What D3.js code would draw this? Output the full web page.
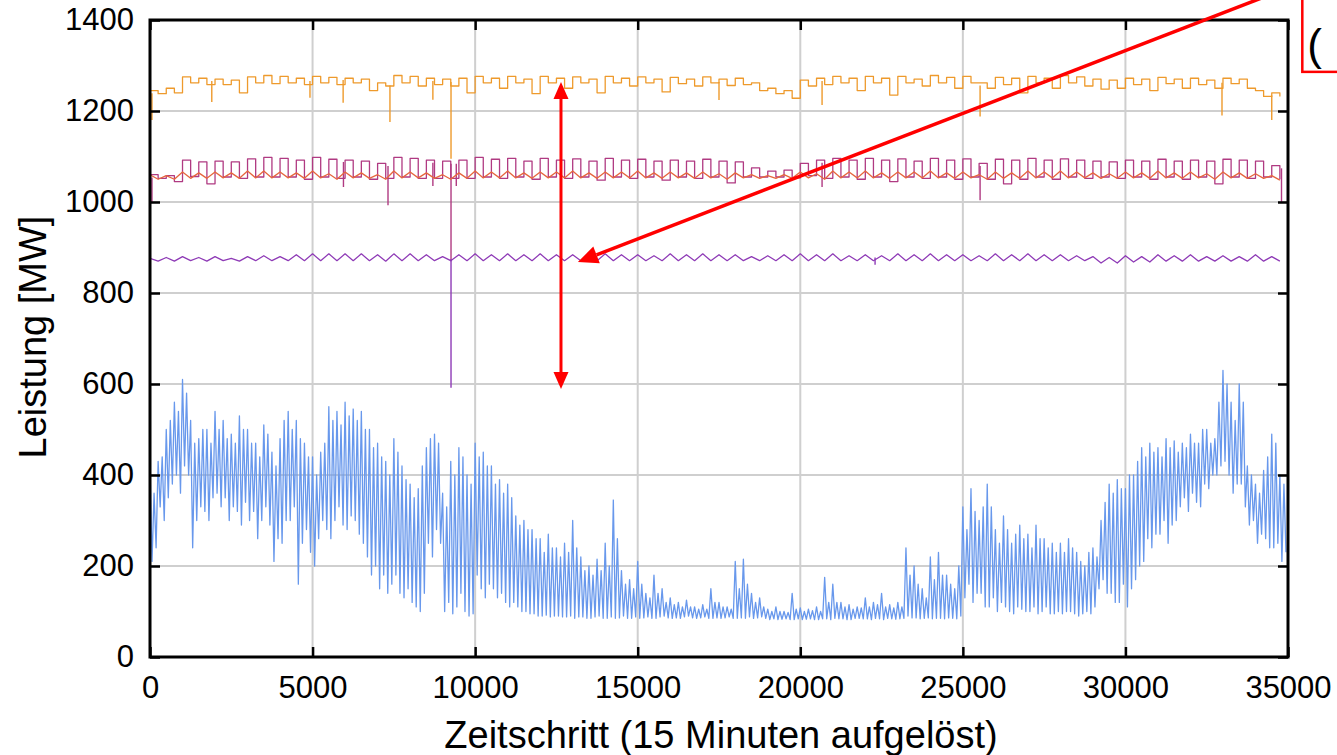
<!DOCTYPE html>
<html>
<head>
<meta charset="utf-8">
<script src="https://cdn.jsdelivr.net/npm/d3@7"></script>
<style>
  html, body { margin: 0; padding: 0; background: #fff; overflow: hidden; }
  text { font-family: "Liberation Sans", Arial, sans-serif; }
</style>
</head>
<body>
<svg id="chart" width="1337" height="755"></svg>
<script>
// x ticks / y ticks
const xTicks = [0, 5000, 10000, 15000, 20000, 25000, 30000, 35000];
const yTicks = [0, 200, 400, 600, 800, 1000, 1200, 1400];

// each series: peak value at t = i*step, trough at t = i*step + step/2
const blueStep = 125;
const blueHi = [
  420,360,430,440,500,520,560,540, 610,580,520,470,480,500,500,470, 540,500,520,480,490,470,530,500,
  500,470,470,440,510,490,450,420, 480,520,540,500,520,480,470,440, 440,400,450,470,550,520,540,510,
  560,530,545,520,540,500,500,460, 470,440,430,400,480,450,420,390, 380,350,370,420,460,480,490,470,
  360,330,430,400,460,440,400,380, 470,440,450,420,420,380,390,360, 380,350,310,290,300,280,280,260,
  260,230,270,240,240,220,250,230, 300,240,220,190,200,180,215,190, 250,200,345,260,190,160,170,150,
  210,160,140,130,180,140,150,120, 130,115,120,110,125,110,110,105, 115,105,150,120,120,110,110,105,
  210,150,215,160,140,120,130,110, 105,100,110,100,100,98,140,105, 108,100,105,102,110,100,175,120,
  160,120,120,110,115,105,110,108, 130,110,120,115,140,110,115,108, 120,110,240,180,200,160,150,130,
  220,170,230,180,180,160,150,200, 330,280,370,320,300,330,380,330, 280,250,310,280,250,270,290,260,
  270,240,290,260,260,240,250,230, 250,230,260,240,230,210,200,230, 240,220,300,340,380,360,390,370,
  370,400,400,430,460,440,470,450, 460,440,480,460,475,450,470,460, 490,470,470,500,500,470,480,560,
  630,600,560,520,600,560,420,400, 380,360,410,440,490,470,400,380
];
const blueLo = [
  210,240,330,300,350,380,400,360, 420,400,240,300,330,320,300,350, 360,330,350,300,330,320,290,340,
  300,320,260,300,330,290,210,260, 250,300,300,330,160,250,280,230, 200,260,300,280,260,300,330,290,
  280,310,300,270,250,220,180,200, 150,180,140,160,180,140,130,150, 120,110,100,140,250,220,280,250,
  100,120,95,110,140,100,90,95, 180,150,130,160,150,130,140,120, 110,120,110,100,100,95,95,90,
  90,92,88,90,90,88,88,90, 85,88,88,85,85,88,90,85, 85,88,85,86,90,85,85,88,
  85,86,88,85,85,88,90,86, 85,86,85,88,90,86,85,86, 88,85,85,86,85,86,88,85,
  85,86,85,88,85,86,88,85, 82,84,82,83,84,82,82,84, 82,83,84,82,82,84,84,82,
  85,84,84,82,82,85,85,84, 84,82,85,84,82,85,84,83, 84,85,90,86,86,84,85,86,
  84,85,85,84,86,85,84,90, 130,160,120,140,140,110,110,130, 100,120,110,100,95,110,105,100,
  100,110,95,100,110,95,95,100, 95,100,100,95,90,95,100,95, 110,150,170,140,140,120,120,160,
  110,150,170,200,210,260,240,270, 270,300,250,290,300,330,350,320, 360,340,330,380,370,400,400,420,
  430,400,360,380,380,330,290,300, 250,270,260,240,240,250,210,230
];

const flatStep = 500;
const orangeHi = [
  1245,1250,1275,1272,1270,1268,1275,1278,1276,1272, 1276,1274,1272,1270,1262,1278,1276,1272,1270,1272,
  1276,1272,1276,1270,1276,1272,1275,1270,1276,1272, 1275,1270,1274,1270,1275,1270,1272,1262,1250,1245,
  1268,1272,1276,1272,1276,1272,1276,1270,1278,1274, 1276,1262,1274,1272,1276,1272,1278,1275,1270,1268,
  1272,1270,1274,1270,1272,1268,1272,1270,1245,1240
];
const orangeLo = [
  1238,1240,1262,1258,1258,1240,1262,1260,1262,1258, 1262,1258,1262,1245,1255,1262,1255,1258,1255,1240,
  1262,1250,1262,1238,1262,1250,1262,1240,1262,1255, 1262,1242,1260,1255,1262,1256,1258,1245,1238,1228,
  1255,1258,1262,1245,1262,1235,1262,1255,1262,1250, 1262,1250,1258,1240,1262,1250,1262,1255,1248,1250,
  1258,1245,1260,1250,1258,1250,1260,1250,1232,1232
];
// narrow dips: [timestep, value]
const orangeDips = [[60,1180],[1900,1220],[4920,1229],[5940,1218],[7380,1176],[8700,1225],[9258,1095],
  [17500,1224],[20670,1213],[25530,1188],[32970,1190],[34500,1180]];

const magentaHi = [
  1060,1058,1092,1088,1090,1088,1095,1098,1096,1092, 1098,1094,1092,1090,1085,1098,1096,1092,1090,1092,
  1098,1094,1096,1090,1096,1092,1095,1090,1096,1092, 1094,1090,1092,1090,1094,1090,1088,1075,1068,1070,
  1085,1092,1096,1092,1096,1092,1095,1090,1096,1092, 1095,1085,1094,1092,1096,1092,1095,1092,1090,1088,
  1092,1090,1094,1090,1092,1090,1094,1092,1090,1080
];
const magentaLo = [
  1052,1045,1056,1040,1055,1052,1055,1055,1055,1050, 1055,1052,1055,1050,1052,1055,1052,1052,1052,1052,
  1055,1052,1055,1050,1055,1052,1055,1048,1055,1052, 1055,1048,1055,1052,1055,1042,1055,1055,1055,1053,
  1058,1052,1055,1050,1055,1045,1055,1052,1055,1050, 1055,1050,1040,1050,1055,1050,1055,1052,1055,1052,
  1055,1050,1055,1050,1055,1040,1055,1052,1055,1050
];
const magentaDips = [[60,1000],[5950,1033],[7320,993],[8700,1035],[9258,870],[9420,1035],
  [20670,1033],[25530,1004],[34800,1000]];

const redHi = [
  1060,1058,1066,1064,1066,1064,1068,1068,1066,1064, 1068,1062,1066,1064,1060,1068,1066,1064,1060,1064,
  1068,1066,1068,1064,1066,1066,1068,1064,1066,1066, 1068,1064,1066,1064,1066,1062,1064,1060,1058,1060,
  1066,1062,1068,1066,1068,1064,1066,1066,1068,1064, 1066,1060,1066,1064,1068,1066,1068,1066,1064,1062,
  1066,1064,1068,1064,1066,1062,1066,1064,1062,1058
];
const redLo = [
  1050,1050,1052,1052,1053,1052,1053,1053,1053,1052, 1053,1050,1053,1052,1050,1053,1053,1052,1050,1052,
  1053,1053,1053,1052,1053,1053,1053,1052,1053,1053, 1053,1052,1053,1052,1053,1050,1053,1052,1052,1052,
  1053,1050,1053,1053,1053,1052,1053,1053,1053,1052, 1053,1050,1052,1052,1053,1053,1053,1053,1052,1052,
  1053,1052,1053,1052,1053,1050,1053,1052,1052,1048
];
const purpleHi = [
  876,878,880,878,880,876,880,882,880,884, 886,886,886,886,884,886,886,884,880,884,
  886,884,886,884,886,884,884,882,886,884, 884,882,886,884,886,884,884,880,882,884,
  886,884,886,882,884,882,886,884,886,884, 884,882,886,884,886,884,884,882,880,878,
  882,880,884,882,884,880,882,880,884,880
];
const purpleLo = [
  870,870,871,870,871,870,871,871,871,871, 871,871,871,871,870,871,871,871,871,871,
  871,871,871,871,871,871,871,871,871,871, 871,871,871,871,871,871,871,871,871,871,
  871,871,871,871,871,871,871,871,871,871, 871,871,871,871,871,871,871,871,866,866,
  868,868,870,870,870,870,870,870,870,870
];
const purpleDips = [[9258,592],[22300,862]];

const W = 1337, H = 755;
const margin = { top: 20, right: 49, bottom: 98, left: 150 };
const iw = W - margin.left - margin.right;
const ih = H - margin.top - margin.bottom;

const svg = d3.select("#chart");
svg.append("rect").attr("width", W).attr("height", H).attr("fill", "#fff");

const x = d3.scaleLinear().domain([0, 35000]).range([0, iw]);
const y = d3.scaleLinear().domain([0, 1400]).range([ih, 0]);

const g = svg.append("g").attr("transform", `translate(${margin.left},${margin.top})`);

svg.append("defs").append("clipPath").attr("id", "plotclip")
  .append("rect").attr("width", iw).attr("height", ih);

// grid
g.append("g").selectAll("line").data(xTicks.slice(1, -1)).enter().append("line")
  .attr("x1", d => x(d)).attr("x2", d => x(d)).attr("y1", 0).attr("y2", ih)
  .attr("stroke", "#cfcfcf").attr("stroke-width", 2);
g.append("g").selectAll("line").data(yTicks.slice(1, -1)).enter().append("line")
  .attr("y1", d => y(d)).attr("y2", d => y(d)).attr("x1", 0).attr("x2", iw)
  .attr("stroke", "#cfcfcf").attr("stroke-width", 2);

function zigzag(hi, lo, step) {
  const pts = [];
  hi.forEach((h, i) => {
    pts.push([i * step, h]);
    pts.push([i * step + step / 2, lo[i]]);
  });
  return pts;
}

const plot = g.append("g").attr("clip-path", "url(#plotclip)");

const series = [
  { hi: orangeHi, lo: orangeLo, step: flatStep, dips: orangeDips, color: "#ee9a2c", curve: d3.curveStepAfter },
  { hi: magentaHi, lo: magentaLo, step: flatStep, dips: magentaDips, color: "#b03a82", curve: d3.curveStepAfter },
  { hi: redHi, lo: redLo, step: flatStep, dips: [], color: "#e6663e", curve: d3.curveLinear },
  { hi: purpleHi, lo: purpleLo, step: flatStep, dips: purpleDips, color: "#8e3ab6", curve: d3.curveLinear },
  { hi: blueHi, lo: blueLo, step: blueStep, dips: [], color: "#6898ec", curve: d3.curveLinear }
];

series.forEach(s => {
  const line = d3.line().x(d => x(d[0])).y(d => y(d[1])).curve(s.curve);
  plot.append("path")
    .attr("d", line(zigzag(s.hi, s.lo, s.step)))
    .attr("fill", "none")
    .attr("stroke", s.color)
    .attr("stroke-width", 1.3)
    .attr("stroke-linejoin", "round");
  // short drops drawn down from the series level at that timestep
  plot.selectAll(null).data(s.dips).enter().append("line")
    .attr("x1", d => x(d[0])).attr("x2", d => x(d[0]))
    .attr("y1", d => y(s.hi[Math.min(s.hi.length - 1, Math.floor(d[0] / s.step))] - 6))
    .attr("y2", d => y(d[1]))
    .attr("stroke", s.color).attr("stroke-width", 1.4);
});

// axes (box with inward ticks on all sides)
const tickLen = 10;
g.append("g").attr("transform", `translate(0,${ih})`)
  .call(d3.axisBottom(x).tickValues(xTicks).tickSize(-tickLen).tickPadding(19).tickFormat(d3.format("d")))
  .call(a => a.select(".domain").remove());
g.append("g")
  .call(d3.axisTop(x).tickValues(xTicks).tickSize(-tickLen).tickFormat(""))
  .call(a => a.select(".domain").remove());
g.append("g")
  .call(d3.axisLeft(y).tickValues(yTicks).tickSize(-tickLen).tickPadding(16).tickFormat(d3.format("d")))
  .call(a => a.select(".domain").remove());
g.append("g").attr("transform", `translate(${iw},0)`)
  .call(d3.axisRight(y).tickValues(yTicks).tickSize(-tickLen).tickFormat(""))
  .call(a => a.select(".domain").remove());

g.selectAll(".tick line").attr("stroke", "#000").attr("stroke-width", 2.5);
g.selectAll(".tick text").attr("fill", "#000").attr("font-size", 31)
  .attr("font-family", "'Liberation Sans', Arial, sans-serif");

g.append("rect").attr("width", iw).attr("height", ih)
  .attr("fill", "none").attr("stroke", "#000").attr("stroke-width", 3);

// axis titles
svg.append("text")
  .attr("x", 721).attr("y", 748)
  .attr("text-anchor", "middle").attr("font-size", 38)
  .text("Zeitschritt (15 Minuten aufgelöst)");
svg.append("text")
  .attr("transform", "translate(46,337) rotate(-90)")
  .attr("text-anchor", "middle").attr("font-size", 38)
  .text("Leistung [MW]");

// red annotations (data coordinates)
const arrowColor = "#ff0000";
const diagFrom = [35370, 1481], diagTo = [13160, 868];
const vertAt = 12640, vertTop = 1264, vertBottom = 589;
const boxLeft = 35440, boxBottom = 1286;

function arrowHead(tip, from, len, half) {
  const dx = tip[0] - from[0], dy = tip[1] - from[1];
  const L = Math.hypot(dx, dy), ux = dx / L, uy = dy / L;
  const bx = tip[0] - ux * len, by = tip[1] - uy * len;
  return [[tip[0], tip[1]], [bx - uy * half, by + ux * half], [bx + uy * half, by - ux * half]];
}

const ann = svg.append("g").attr("transform", `translate(${margin.left},${margin.top})`);
const p0 = [x(diagFrom[0]), y(diagFrom[1])], p1 = [x(diagTo[0]), y(diagTo[1])];
const head1 = arrowHead(p1, p0, 20, 9);
ann.append("line")
  .attr("x1", p0[0]).attr("y1", p0[1])
  .attr("x2", (head1[1][0] + head1[2][0]) / 2).attr("y2", (head1[1][1] + head1[2][1]) / 2)
  .attr("stroke", arrowColor).attr("stroke-width", 3.5);
ann.append("polygon").attr("points", head1.map(p => p.join(",")).join(" ")).attr("fill", arrowColor);

const vt = [x(vertAt), y(vertTop)], vb = [x(vertAt), y(vertBottom)];
const hTop = arrowHead(vt, vb, 17, 7.5), hBot = arrowHead(vb, vt, 17, 7.5);
ann.append("line")
  .attr("x1", vt[0]).attr("y1", vt[1] + 15).attr("x2", vb[0]).attr("y2", vb[1] - 15)
  .attr("stroke", arrowColor).attr("stroke-width", 3);
ann.append("polygon").attr("points", hTop.map(p => p.join(",")).join(" ")).attr("fill", arrowColor);
ann.append("polygon").attr("points", hBot.map(p => p.join(",")).join(" ")).attr("fill", arrowColor);

// annotation box (cut at the right edge of the picture)
const bx0 = x(boxLeft) + margin.left, by0 = y(boxBottom) + margin.top;
svg.append("rect").attr("x", bx0).attr("y", -10).attr("width", 80).attr("height", by0 + 10)
  .attr("fill", "#fff").attr("stroke", arrowColor).attr("stroke-width", 2.5);
svg.append("text").attr("x", bx0 + 5).attr("y", 60).attr("font-size", 44).text("(");
</script>
</body>
</html>
